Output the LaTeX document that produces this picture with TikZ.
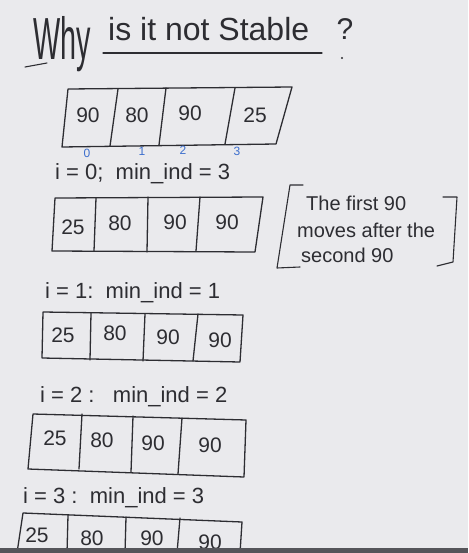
\documentclass[tikz,border=0pt]{standalone}
\usepackage{fontspec}
\setmainfont{Liberation Sans}
\definecolor{board}{RGB}{234,234,237}
\definecolor{ink}{RGB}{45,45,50}
\definecolor{blueink}{RGB}{60,110,205}
\definecolor{bar}{RGB}{85,85,90}
\begin{document}
\begin{tikzpicture}[x=1pt,y=-1pt, line join=round, line cap=round,
  cell/.style={draw=ink, line width=1.3pt},
  num/.style={text=ink, font=\fontsize{21}{21}\selectfont, inner sep=0},
  lbl/.style={text=ink, font=\fontsize{22}{22}\selectfont, inner sep=0, anchor=west},
  note/.style={text=ink, font=\fontsize{20}{20}\selectfont, inner sep=0, anchor=west},
  idx/.style={text=blueink, font=\fontsize{12}{12}\selectfont, inner sep=0}]
\fill[board] (0,0) rectangle (468,553);
\useasboundingbox (0,0) rectangle (468,553);

% title
\node[text=ink, inner sep=0, font=\fontsize{36}{36}\selectfont] (why) at (62,44) {\scalebox{0.8}[1.65]{Why}};
\node[text=ink, inner sep=0, anchor=west, font=\fontsize{32}{32}\selectfont] (rest) at (108,29) {is it not Stable};
\node[text=ink, inner sep=0, font=\fontsize{30}{30}\selectfont] (qm) at (345,29) {?};
\draw[ink, line width=1.1pt] (103,53) -- (322,53);
\draw[ink, line width=1.1pt] (25,67) -- (47,63);
\fill[ink] (342,58) circle (1.2);

% array 1
\draw[cell] (68,89) -- (292,87) -- (276,144) -- (62,147) -- cycle;
\draw[cell] (118,89) -- (110,146) (166,88) -- (159,145) (235,88) -- (225,144);
\node[num] (a1) at (88,115) {90};
\node[num] (a2) at (137,115) {80};
\node[num] (a3) at (190,113) {90};
\node[num] (a4) at (255,115) {25};
\node[idx] (i0) at (87,153) {0};
\node[idx] (i1) at (142,151) {1};
\node[idx] (i2) at (183,150) {2};
\node[idx] (i3) at (237,151) {3};
\node[lbl] (l0) at (55,174) {i = 0;\ \ min\_ind = 3};

% array 2
\draw[cell] (55,198) -- (263,197) -- (255,252) -- (52,251) -- cycle;
\draw[cell] (96,198) -- (94,251) (148,197) -- (147,252) (200,197) -- (196,251);
\node[num] (b1) at (73,227) {25};
\node[num] (b2) at (120,223) {80};
\node[num] (b3) at (175,222) {90};
\node[num] (b4) at (227,222) {90};

% note with brackets
\draw[ink, line width=1.1pt] (303,185) -- (290,185) -- (277,268) -- (300,267);
\draw[ink, line width=1.1pt] (443,197) -- (457,197) -- (453,262) -- (437,266);
\node[note] (n1) at (306,203) {The first 90};
\node[note] (n2) at (297,230) {moves after the};
\node[note] (n3) at (301,255) {second 90};

% array 3
\node[lbl] (l1) at (45,293) {i = 1:\ \ min\_ind = 1};
\draw[cell] (43,312) -- (243,315) -- (240,362) -- (42,358) -- cycle;
\draw[cell] (91,313) -- (90,360) (145,314) -- (143,361) (198,314) -- (193,361);
\node[num] (c1) at (63,335) {25};
\node[num] (c2) at (115,333) {80};
\node[num] (c3) at (168,337) {90};
\node[num] (c4) at (220,340) {90};

% array 4
\node[lbl] (l2) at (40,397) {i = 2 :\ \ \ min\_ind = 2};
\draw[cell] (33,414) -- (246,420) -- (244,477) -- (28,469) -- cycle;
\draw[cell] (82,414) -- (79,469) (133,416) -- (131,472) (182,418) -- (178,474);
\node[num] (d1) at (55,438) {25};
\node[num] (d2) at (102,440) {80};
\node[num] (d3) at (153,443) {90};
\node[num] (d4) at (210,445) {90};

% array 5
\node[lbl] (l3) at (23,498) {i = 3 :\ \ min\_ind = 3};
\draw[cell] (17,553) -- (23,513) -- (242,522) -- (240,553);
\draw[cell] (68,515) -- (67,553) (126,517) -- (125,553) (180,518) -- (177,553);
\node[num] (e1) at (37,535) {25};
\node[num] (e2) at (92,538) {80};
\node[num] (e3) at (152,538) {90};
\node[num] (e4) at (210,542) {90};

% bottom bar
\fill[bar] (0,548) rectangle (468,553);
\end{tikzpicture}
\end{document}
